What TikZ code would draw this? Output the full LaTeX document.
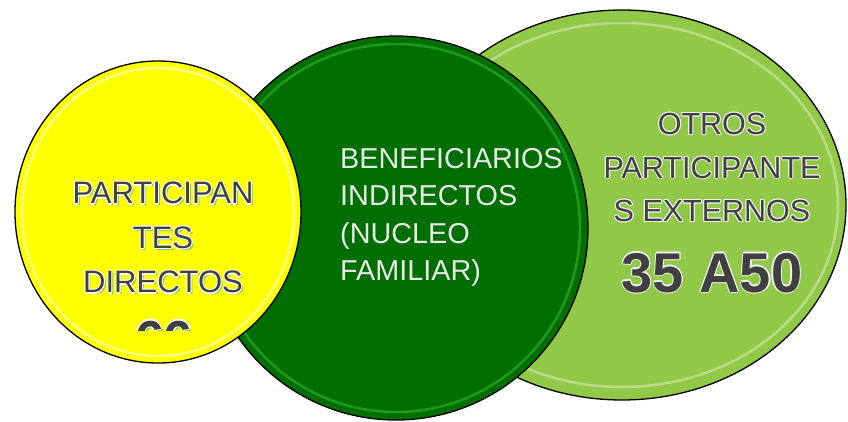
\documentclass[tikz,border=0pt]{standalone}
\usepackage{fontspec}
\setmainfont{Liberation Sans}
\usetikzlibrary{shapes.geometric}
\definecolor{ylw}{RGB}{255,255,0}
\definecolor{dkg}{RGB}{0,110,0}
\definecolor{ltg}{RGB}{146,200,72}
\definecolor{txtg}{RGB}{64,64,64}
\definecolor{txtw}{RGB}{232,232,232}
\definecolor{glow}{RGB}{140,205,80}
\newlength\olw
\setlength\olw{1.1pt}
\newcommand\cpy[4]{\rlap{\kern#2\raisebox{#3}{\color{#1}#4}}}
\newcommand\outl[2]{\cpy{#1}{\olw}{0pt}{#2}\cpy{#1}{-\olw}{0pt}{#2}\cpy{#1}{0pt}{\olw}{#2}\cpy{#1}{0pt}{-\olw}{#2}%
\cpy{#1}{.7\olw}{.7\olw}{#2}\cpy{#1}{-.7\olw}{.7\olw}{#2}\cpy{#1}{.7\olw}{-.7\olw}{#2}\cpy{#1}{-.7\olw}{-.7\olw}{#2}#2}
\newcommand\ytxt[1]{\cpy{glow}{2pt}{-2pt}{#1}\outl{white}{#1}}
\begin{document}
\begin{tikzpicture}[x=1pt,y=-1pt,
  bubble/.style={ellipse, draw=black, line width=1.3pt, inner sep=0pt},
  shine/.style={white, line width=2.5pt, opacity=0.35},
  gtxt/.style={text=txtg, inner sep=0pt, align=center}]
\useasboundingbox[fill=white] (0,0) rectangle (848,421);
% light green (back)
\node[bubble, fill=ltg, minimum width=448pt, minimum height=390pt] (otros) at (622,205) {};
\draw[shine] (622,205) ellipse [x radius=216pt, y radius=182pt];
% dark green
\node[bubble, fill=dkg, minimum width=384pt, minimum height=384pt] (benef) at (396,228) {};
\draw[shine, opacity=0.3, green!60!white] (396,228) circle [radius=184pt];
% yellow (front)
\node[bubble, fill=ylw, minimum width=286pt, minimum height=302pt] (partic) at (158,212) {};
\draw[shine, opacity=0.5] (158,212) ellipse [x radius=136pt, y radius=144pt];
% texts
\node[gtxt, anchor=north, font=\fontsize{31}{44.5}\selectfont] (ptxt) at (163,181)
  {\ytxt{PARTICIPAN}\\\ytxt{TES}\\\ytxt{DIRECTOS}};
\begin{scope}
\clip (0,0) rectangle (848,330);
\node[gtxt, anchor=base, font=\fontsize{52}{60}\bfseries\selectfont] (pnum) at (164,357) {\ytxt{66}};
\end{scope}
\node[text=txtw, inner sep=0pt, align=left, anchor=north west, font=\fontsize{28.8}{37.5}\selectfont] (btxt) at (340,148)
  {BENEFICIARIOS\\INDIRECTOS\\(NUCLEO\\FAMILIAR)};
\node[gtxt, anchor=north, font=\fontsize{30.5}{43.5}\selectfont] (otxt) at (712,112)
  {\outl{white!90!gray}{OTROS}\\\outl{white!90!gray}{PARTICIPANTE}\\\outl{white!90!gray}{S EXTERNOS}};
\node[gtxt, anchor=base, font=\fontsize{56}{60}\bfseries\selectfont] (onum) at (712,292)
  {\outl{white!90!gray}{35 A50}};
\end{tikzpicture}
\end{document}
